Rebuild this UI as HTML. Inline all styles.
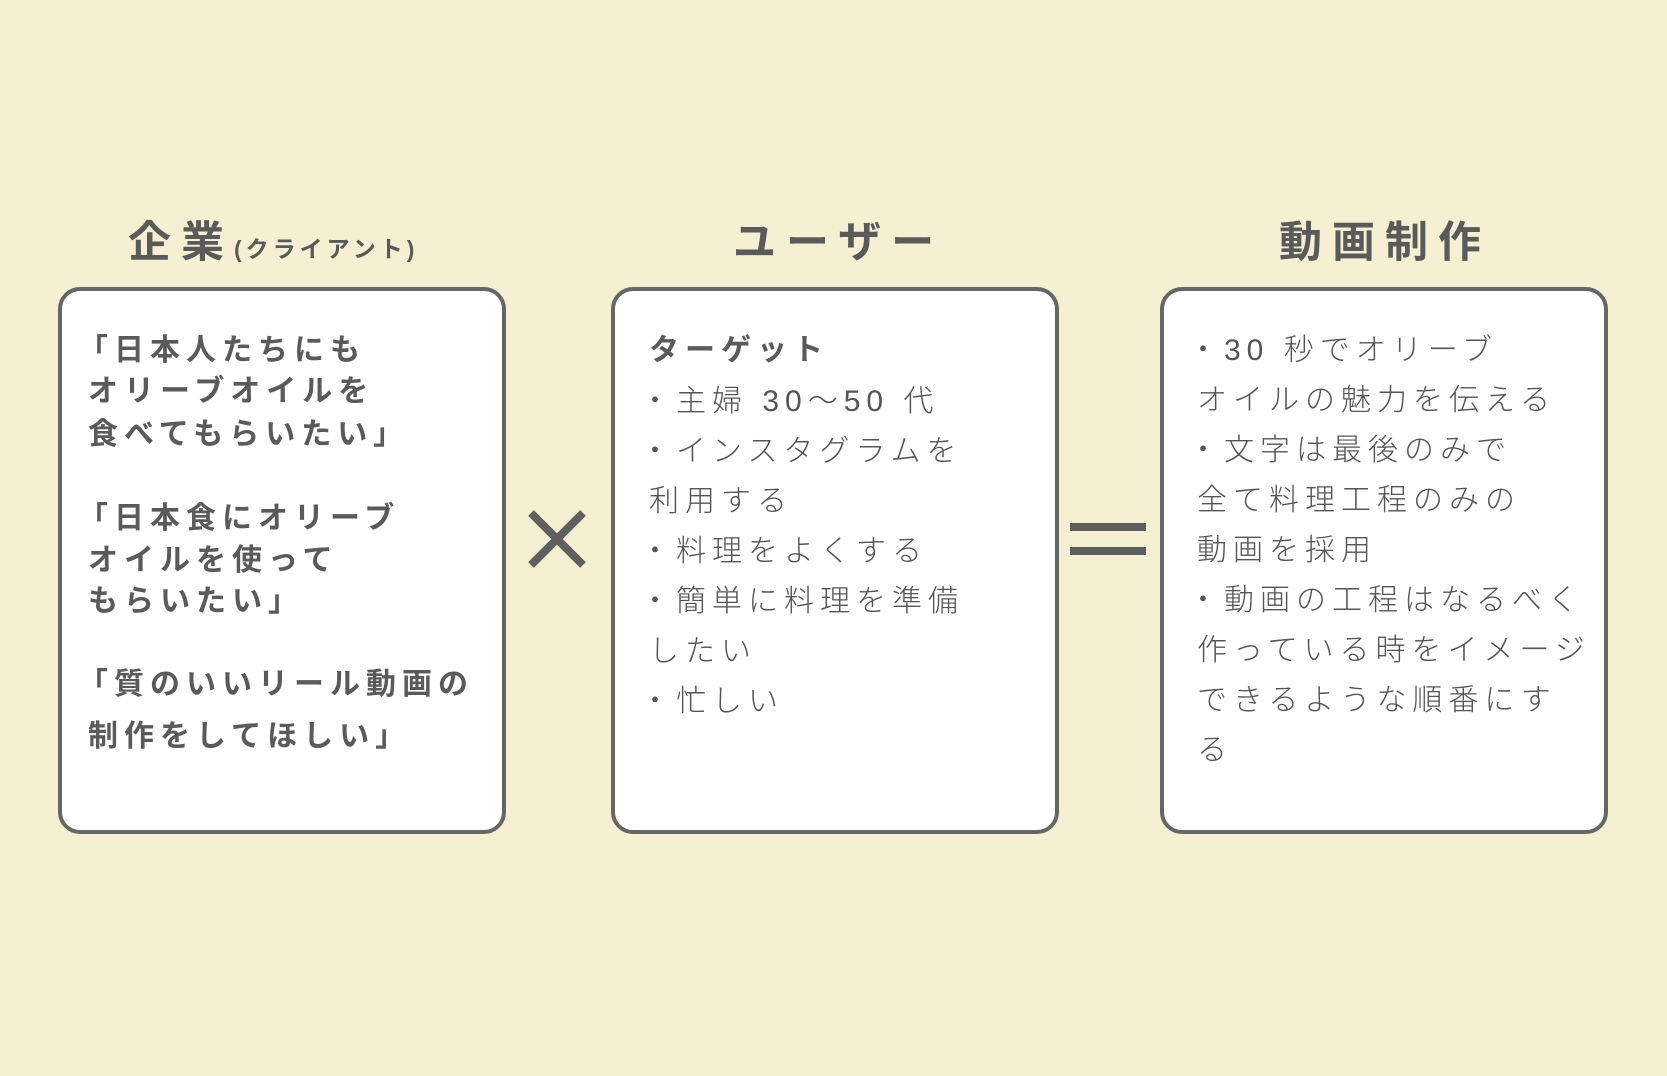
<!DOCTYPE html>
<html><head><meta charset="utf-8"><style>
html,body{margin:0;padding:0}
body{width:1667px;height:1076px;background:#f5f0d2;position:relative;overflow:hidden;font-family:"Liberation Sans","Noto Sans CJK JP",sans-serif;color:#5f5f5f}
.box{position:absolute;top:287px;width:448px;height:547px;border:4px solid #666;border-radius:22px;background:#fff;box-sizing:border-box}
.t{position:absolute;white-space:nowrap;line-height:1}
.h{font-size:43px;font-weight:bold;letter-spacing:10px;color:#5a5a5a}
.l{font-size:30px;font-weight:bold;letter-spacing:6px;color:#5a5a5a}
.m{font-size:30px;font-weight:300;letter-spacing:6px;color:#555}
</style></head><body>
<div class="box" style="left:58px"></div>
<div class="box" style="left:611px"></div>
<div class="box" style="left:1160px"></div>

<div class="t h" style="left:128px;top:222px">企業<span style="font-size:23px;letter-spacing:4px;font-weight:bold">(クライアント)</span></div>
<div class="t h" style="left:733px;top:222px">ユーザー</div>
<div class="t h" style="left:1279px;top:222px">動画制作</div>

<div class="t l" style="left:78px;top:336px">「日本人たちにも</div>
<div class="t l" style="left:88px;top:377px">オリーブオイルを</div>
<div class="t l" style="left:88px;top:420px">食べてもらいたい」</div>
<div class="t l" style="left:78px;top:504px">「日本食にオリーブ</div>
<div class="t l" style="left:88px;top:546px">オイルを使って</div>
<div class="t l" style="left:88px;top:587px">もらいたい」</div>
<div class="t l" style="left:78px;top:670px">「質のいいリール動画の</div>
<div class="t l" style="left:88px;top:722px">制作をしてほしい」</div>

<div class="t m" style="left:649px;top:336px;font-weight:bold;color:#5a5a5a">ターゲット</div>
<div class="t m" style="left:640px;top:387px">・主婦 30〜50 代</div>
<div class="t m" style="left:640px;top:437px">・インスタグラムを</div>
<div class="t m" style="left:649px;top:487px">利用する</div>
<div class="t m" style="left:640px;top:537px">・料理をよくする</div>
<div class="t m" style="left:640px;top:587px">・簡単に料理を準備</div>
<div class="t m" style="left:649px;top:637px">したい</div>
<div class="t m" style="left:640px;top:687px">・忙しい</div>

<div class="t m" style="left:1188px;top:336px">・30 秒でオリーブ</div>
<div class="t m" style="left:1197px;top:386px">オイルの魅力を伝える</div>
<div class="t m" style="left:1188px;top:436px">・文字は最後のみで</div>
<div class="t m" style="left:1197px;top:486px">全て料理工程のみの</div>
<div class="t m" style="left:1197px;top:536px">動画を採用</div>
<div class="t m" style="left:1188px;top:586px">・動画の工程はなるべく</div>
<div class="t m" style="left:1197px;top:636px">作っている時をイメージ</div>
<div class="t m" style="left:1197px;top:686px">できるような順番にす</div>
<div class="t m" style="left:1197px;top:736px">る</div>

<svg style="position:absolute;left:0;top:0" width="1667" height="1076">
<g stroke="#5f5f5f" stroke-width="8" stroke-linecap="butt">
<line x1="531" y1="513" x2="583" y2="565"/>
<line x1="583" y1="513" x2="531" y2="565"/>
</g>
<rect x="1070" y="523" width="76" height="8" fill="#5f5f5f"/>
<rect x="1070" y="547" width="76" height="8" fill="#5f5f5f"/>
</svg>
</body></html>
